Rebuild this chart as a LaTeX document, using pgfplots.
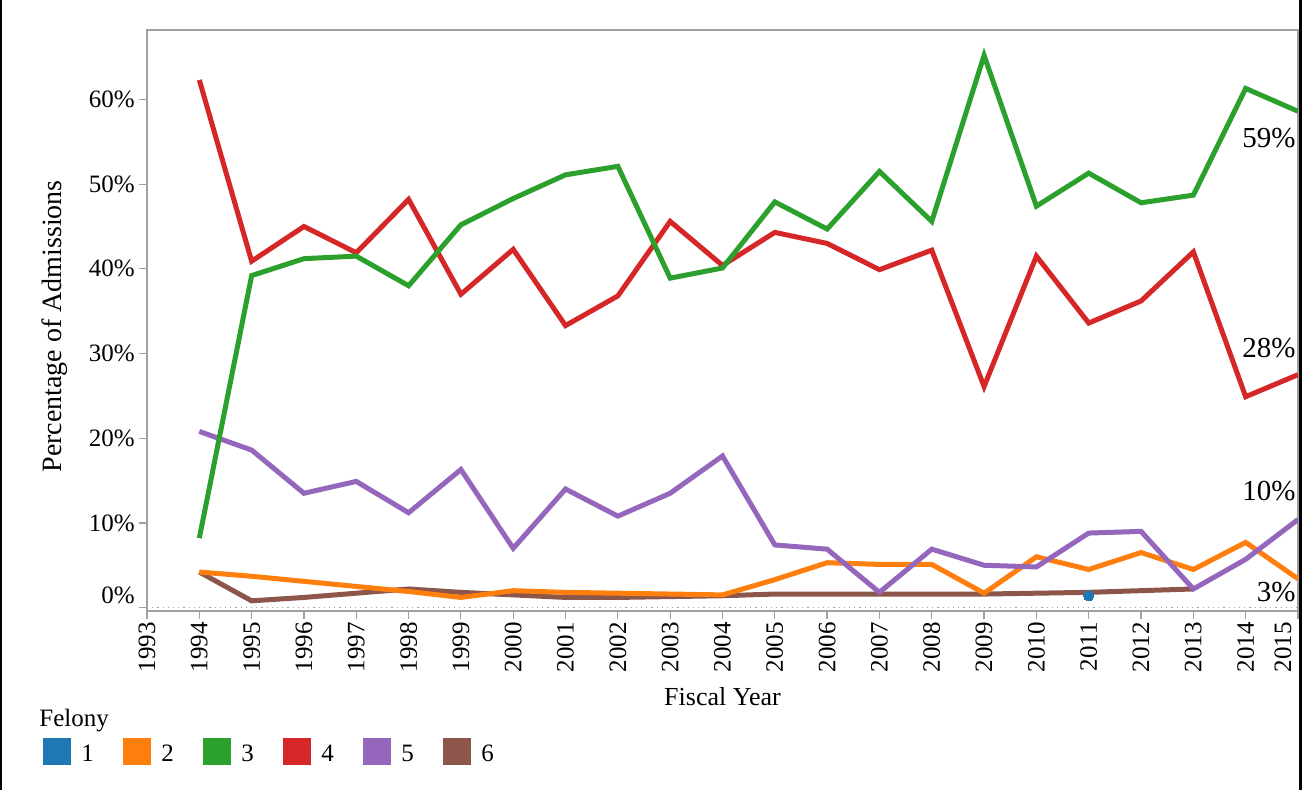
\documentclass[border=0pt]{standalone}
\usepackage{fontspec}
\setmainfont{Liberation Serif}
\usepackage{pgfplots}
\pgfplotsset{compat=1.18}
\definecolor{tb}{HTML}{1F77B4}
\definecolor{to}{HTML}{FF7F0E}
\definecolor{tg}{HTML}{2CA02C}
\definecolor{tr}{HTML}{D62728}
\definecolor{tp}{HTML}{9467BD}
\definecolor{tbr}{HTML}{8C564B}
\definecolor{axgray}{HTML}{A0A0A0}
\begin{document}
\begin{tikzpicture}
\useasboundingbox (0,0) rectangle (651pt,395pt);
\begin{axis}[
  at={(73.5pt,89.5pt)}, anchor=south west,
  scale only axis, width=575.5pt, height=290.5pt,
  xmin=1993, xmax=2015, ymin=-0.4, ymax=68.2,
  clip mode=individual,
  axis line style={axgray, line width=0.6pt},
  tick style={axgray, line width=0.6pt},
  tick align=outside, major tick length=4pt,
  xtick={1993,...,2014},
  ytick={10,20,30,40,50,60},
  extra y ticks={0},
  extra y tick style={yticklabel style={yshift=6pt}},
  extra x ticks={2015},
  extra x tick style={xticklabel style={yshift=7.5pt}},
  xtick pos=bottom, ytick pos=left,
  /pgf/number format/.cd, 1000 sep={}, assume math mode=true, /pgfplots/.cd,
  yticklabel={\pgfmathprintnumber{\tick}\%},
  xticklabel style={rotate=90, anchor=east, font=\fontsize{12.5}{14}\selectfont, inner sep=1.5pt},
  yticklabel style={font=\fontsize{12.5}{14}\selectfont, inner sep=2pt},
  xlabel={Fiscal Year},
  ylabel={Percentage of Admissions},
  xlabel style={at={(axis description cs:0.5,-0.147)}, anchor=center, font=\fontsize{13}{15}\selectfont},
  ylabel style={at={(axis description cs:-0.080,0.49)}, anchor=center, rotate=0, font=\fontsize{14}{16}\selectfont},
  every axis plot/.append style={line width=2.5pt, line join=miter, no markers},
]
\draw[axgray, dotted, line width=0.6pt] (axis cs:1993,0) -- (axis cs:2015,0);
% Felony 6 (brown)
\addplot[tbr] coordinates {
(1994,4.2) (1995,0.8) (1996,1.2) (1997,1.7) (1998,2.2) (1999,1.8) (2000,1.5)
(2001,1.2) (2002,1.2) (2003,1.3) (2004,1.4) (2005,1.6) (2006,1.6) (2007,1.6)
(2008,1.6) (2009,1.6) (2010,1.7) (2011,1.8) (2012,2.0) (2013,2.2)};
% Felony 2 (orange)
\addplot[to] coordinates {
(1994,4.2) (1995,3.7) (1996,3.1) (1997,2.5) (1998,1.9) (1999,1.2) (2000,2.0)
(2001,1.8) (2002,1.7) (2003,1.6) (2004,1.5) (2005,3.3) (2006,5.3) (2007,5.1)
(2008,5.1) (2009,1.7) (2010,6.0) (2011,4.5) (2012,6.5) (2013,4.5) (2014,7.7) (2015,3.4)};
% Felony 5 (purple)
\addplot[tp] coordinates {
(1994,20.8) (1995,18.6) (1996,13.5) (1997,14.9) (1998,11.2) (1999,16.3) (2000,7.0)
(2001,14.0) (2002,10.8) (2003,13.5) (2004,17.9) (2005,7.4) (2006,6.9) (2007,1.8)
(2008,6.9) (2009,5.0) (2010,4.8) (2011,8.8) (2012,9.0) (2013,2.2) (2014,5.7) (2015,10.4)};
% Felony 4 (red)
\addplot[tr] coordinates {
(1994,62.3) (1995,40.9) (1996,45.0) (1997,41.9) (1998,48.2) (1999,37.0) (2000,42.3)
(2001,33.3) (2002,36.8) (2003,45.6) (2004,40.4) (2005,44.3) (2006,43.0) (2007,39.9)
(2008,42.2) (2009,26.1) (2010,41.5) (2011,33.6) (2012,36.2) (2013,42.0) (2014,24.9) (2015,27.5)};
% Felony 3 (green)
\addplot[tg] coordinates {
(1994,8.2) (1995,39.2) (1996,41.2) (1997,41.5) (1998,38.0) (1999,45.2) (2000,48.3)
(2001,51.1) (2002,52.1) (2003,38.9) (2004,40.1) (2005,47.9) (2006,44.7) (2007,51.5)
(2008,45.6) (2009,65.2) (2010,47.4) (2011,51.3) (2012,47.8) (2013,48.7) (2014,61.3) (2015,58.6)};
% Felony 1 (blue)
\addplot[tb, only marks, mark=*, mark size=2.6pt, line width=0pt] coordinates {(2011,1.4)};
\node[anchor=east, font=\fontsize{14.5}{16}\selectfont, inner sep=1pt] at (axis cs:2015,58.6) [yshift=-13.5pt] {59\%};
\node[anchor=east, font=\fontsize{14.5}{16}\selectfont, inner sep=1pt] at (axis cs:2015,27.5) [yshift=13.5pt] {28\%};
\node[anchor=east, font=\fontsize{14.5}{16}\selectfont, inner sep=1pt] at (axis cs:2015,10.4) [yshift=14pt] {10\%};
\node[anchor=east, font=\fontsize{14.5}{16}\selectfont, inner sep=1pt] at (axis cs:2015,3.5) [yshift=-7pt] {3\%};
\end{axis}
% legend
\node[anchor=base west, font=\fontsize{12.5}{14}\selectfont, inner sep=0pt] at (19.5pt,31.5pt) {Felony};
\foreach \c/\l [count=\i from 0] in {tb/1,to/2,tg/3,tr/4,tp/5,tbr/6}{
  \fill[\c] ({21.5pt+\i*40pt},12.5pt) rectangle ({35.5pt+\i*40pt},26pt);
  \node[anchor=base west, font=\fontsize{12.5}{14}\selectfont, inner sep=0pt] at ({40.5pt+\i*40pt},14pt) {\l};
}
% frame
\draw[black, line width=1.2pt] (0.6pt,395pt) -- (0.6pt,0pt);
\draw[black, line width=1.2pt] (650.2pt,395pt) -- (650.2pt,0pt);
\end{tikzpicture}
\end{document}
